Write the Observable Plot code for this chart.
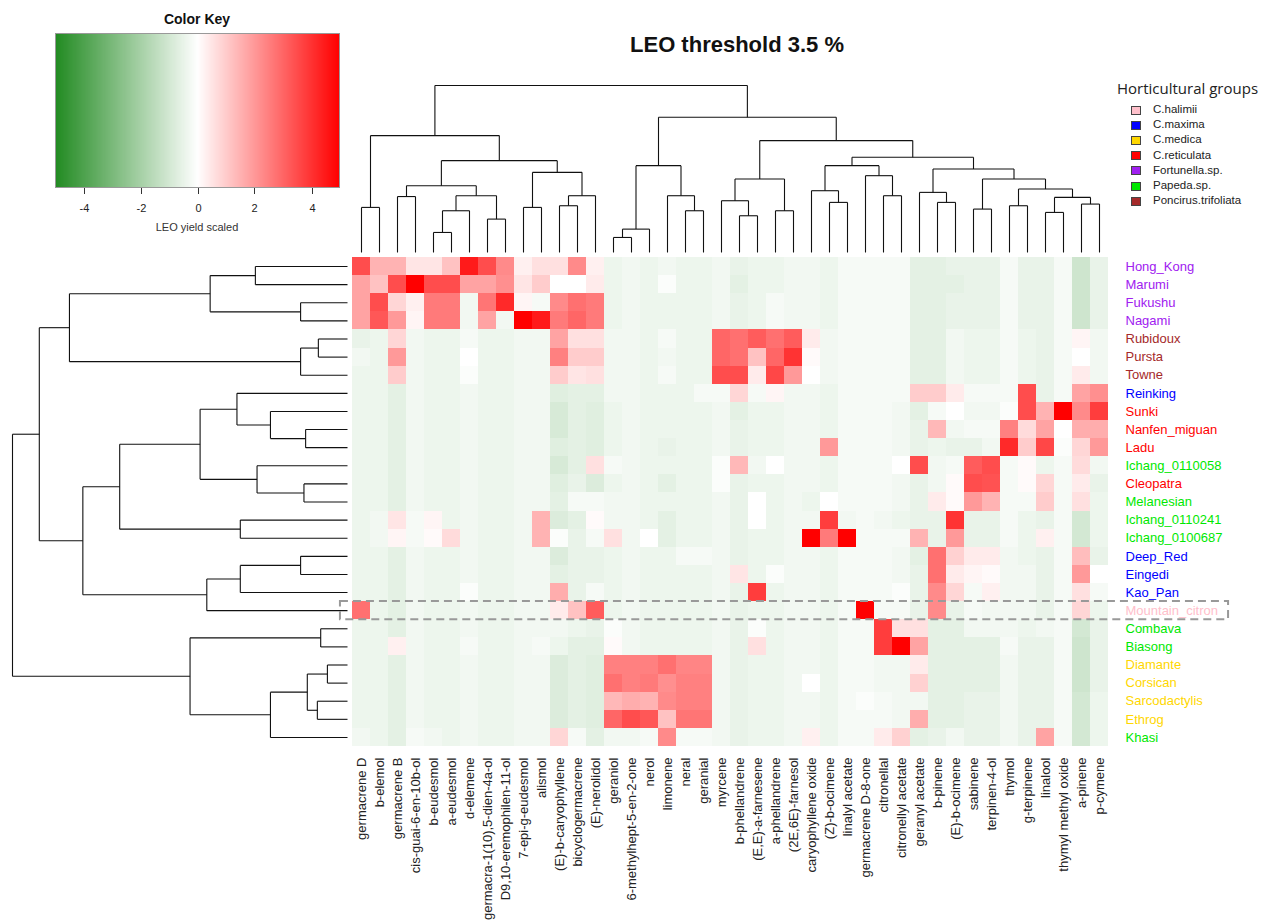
<!DOCTYPE html>
<html><head><meta charset="utf-8">
<script src="https://cdn.jsdelivr.net/npm/d3@7"></script>
<script src="https://cdn.jsdelivr.net/npm/@observablehq/plot@0.6"></script>
<style>
body{margin:0;background:#fff;font-family:"Liberation Sans",Arial,sans-serif;}
#wrap{position:relative;width:1273px;height:924px;overflow:hidden;background:#fff}
#wrap > svg{position:absolute;left:0;top:0}
.abs{position:absolute;white-space:nowrap}
</style></head><body><div id="wrap"></div>
<script>
const compounds = ["germacrene D","b-elemol","germacrene B","cis-guai-6-en-10b-ol","b-eudesmol","a-eudesmol","d-elemene","germacra-1(10),5-dien-4a-ol","D9,10-eremophilen-11-ol","7-epi-g-eudesmol","alismol","(E)-b-caryophyllene","bicyclogermacrene","(E)-nerolidol","geraniol","6-methylhept-5-en-2-one","nerol","limonene","neral","geranial","myrcene","b-phellandrene","(E,E)-a-farnesene","a-phellandrene","(2E,6E)-farnesol","caryophyllene oxide","(Z)-b-ocimene","linalyl acetate","germacrene D-8-one","citronellal","citronellyl acetate","geranyl acetate","b-pinene","(E)-b-ocimene","sabinene","terpinen-4-ol","thymol","g-terpinene","linalool","thymyl methyl oxide","a-pinene","p-cymene"];

const accessions = ["Hong_Kong","Marumi","Fukushu","Nagami","Rubidoux","Pursta","Towne","Reinking","Sunki","Nanfen_miguan","Ladu","Ichang_0110058","Cleopatra","Melanesian","Ichang_0110241","Ichang_0100687","Deep_Red","Eingedi","Kao_Pan","Mountain_citron","Combava","Biasong","Diamante","Corsican","Sarcodactylis","Ethrog","Khasi"];

const accessionGroup = ["Fortunella.sp.","Fortunella.sp.","Fortunella.sp.","Fortunella.sp.","Poncirus.trifoliata","Poncirus.trifoliata","Poncirus.trifoliata","C.maxima","C.reticulata","C.reticulata","C.reticulata","Papeda.sp.","C.reticulata","Papeda.sp.","Papeda.sp.","Papeda.sp.","C.maxima","C.maxima","C.maxima","C.halimii","Papeda.sp.","Papeda.sp.","C.medica","C.medica","C.medica","C.medica","Papeda.sp."];

const groupNames = ["C.halimii","C.maxima","C.medica","C.reticulata","Fortunella.sp.","Papeda.sp.","Poncirus.trifoliata"];
const groupColors = ["#FFC0CB","#0000FF","#FFD700","#FF0000","#A020F0","#00E800","#A52A2A"];

const highlighted = ["Mountain_citron"];

// scaled LEO yield, one row per accession, one value per compound
const values = [
[3.5,1.5,1.5,0.5,0.5,1.2,4.5,3.5,2.3,0.3,0.6,0.6,2.3,0.3,-0.4,-0.3,-0.4,-0.3,-0.4,-0.4,-0.3,-0.5,-0.4,-0.4,-0.3,-0.3,-0.4,-0.2,-0.2,-0.2,-0.2,-0.6,-0.6,-0.5,-0.5,-0.5,-0.2,-0.5,-0.5,-0.2,-1.1,-0.5],
[1.8,1.2,3.5,5,3.5,3.5,1.8,1.8,2.2,0.5,1.0,0,0,0.4,-0.4,-0.3,-0.4,-0.1,-0.4,-0.4,-0.3,-0.6,-0.4,-0.4,-0.3,-0.3,-0.4,-0.2,-0.2,-0.2,-0.2,-0.6,-0.6,-0.6,-0.5,-0.5,-0.2,-0.5,-0.5,-0.2,-1.1,-0.5],
[1.8,3.5,0.8,0.3,2.6,2.6,-0.3,2.7,4.2,0.2,-0.2,2.3,2.8,2.6,-0.4,-0.3,-0.4,-0.4,-0.4,-0.4,-0.3,-0.5,-0.4,-0.2,-0.3,-0.3,-0.4,-0.2,-0.2,-0.2,-0.2,-0.6,-0.6,-0.5,-0.5,-0.5,-0.2,-0.5,-0.5,-0.2,-1.1,-0.5],
[1.8,3.3,2.0,0.2,2.6,2.6,-0.3,1.8,-0.3,5,4.5,2.6,3.0,2.6,-0.4,-0.3,-0.4,-0.4,-0.4,-0.4,-0.3,-0.5,-0.4,-0.2,-0.3,-0.3,-0.4,-0.2,-0.2,-0.2,-0.2,-0.6,-0.6,-0.5,-0.5,-0.5,-0.2,-0.5,-0.5,-0.2,-1.1,-0.5],
[-0.5,-0.4,0.8,-0.3,-0.4,-0.4,-0.2,-0.4,-0.4,-0.3,-0.3,1.8,0.6,0.6,-0.3,-0.3,-0.4,-0.2,-0.4,-0.4,3.0,2.8,3.2,2.8,3.2,0.4,-0.3,-0.2,-0.2,-0.2,-0.2,-0.6,-0.6,-0.3,-0.4,-0.4,-0.2,-0.4,-0.5,-0.2,0.2,-0.3],
[-0.3,-0.4,2.0,-0.3,-0.4,-0.4,0,-0.4,-0.4,-0.3,-0.3,2.5,1.0,1.0,-0.3,-0.3,-0.4,-0.3,-0.4,-0.4,3.0,2.8,1.2,3.0,4.0,0.1,-0.3,-0.2,-0.2,-0.2,-0.2,-0.6,-0.6,-0.3,-0.4,-0.4,-0.2,-0.4,-0.5,-0.2,0,-0.3],
[-0.4,-0.4,1.0,-0.3,-0.4,-0.4,-0.1,-0.4,-0.4,-0.3,-0.3,1.0,0.5,0.6,-0.3,-0.3,-0.4,-0.2,-0.4,-0.4,3.5,3.5,0.4,3.6,2.0,0,-0.3,-0.2,-0.2,-0.2,-0.2,-0.6,-0.6,-0.3,-0.4,-0.4,-0.2,-0.4,-0.5,-0.2,0.4,-0.3],
[-0.4,-0.4,-0.6,-0.3,-0.4,-0.4,-0.3,-0.4,-0.4,-0.3,-0.3,-0.7,-0.6,-0.6,-0.3,-0.3,-0.4,-0.4,-0.4,-0.2,-0.2,0.8,-0.2,0.2,-0.3,-0.3,-0.4,-0.2,-0.2,-0.2,-0.2,1.0,1.0,0.4,-0.2,-0.2,-0.2,3.5,-0.5,-0.2,1.8,2.2],
[-0.4,-0.4,-0.6,-0.3,-0.4,-0.4,-0.3,-0.4,-0.4,-0.3,-0.3,-0.9,-0.6,-0.7,-0.4,-0.3,-0.4,-0.4,-0.4,-0.4,-0.3,-0.6,-0.4,-0.4,-0.3,-0.3,-0.4,-0.2,-0.2,-0.2,-0.3,-0.6,-0.2,0,-0.3,-0.3,-0.1,3.5,1.5,5,2.3,3.8],
[-0.4,-0.4,-0.6,-0.3,-0.4,-0.4,-0.3,-0.4,-0.4,-0.3,-0.3,-0.9,-0.6,-0.7,-0.4,-0.3,-0.4,-0.4,-0.4,-0.4,-0.3,-0.5,-0.4,-0.4,-0.3,-0.3,-0.4,-0.2,-0.2,-0.2,-0.3,-0.5,1.4,-0.3,-0.2,-0.2,2.5,0.7,1.8,0,1.6,1.6],
[-0.4,-0.4,-0.6,-0.3,-0.4,-0.4,-0.3,-0.4,-0.4,-0.3,-0.3,-0.7,-0.6,-0.7,-0.4,-0.3,-0.4,-0.5,-0.4,-0.4,-0.3,-0.5,-0.4,-0.4,-0.3,-0.3,2.0,-0.2,-0.2,-0.2,-0.3,-0.5,-0.4,-0.5,-0.5,-0.3,4.2,1.0,3.6,-0.1,0.8,2.0],
[-0.4,-0.4,-0.6,-0.3,-0.4,-0.4,-0.3,-0.4,-0.4,-0.3,-0.3,-0.9,-0.6,0.6,-0.2,-0.3,-0.4,-0.4,-0.4,-0.4,-0.1,1.4,-0.3,0,-0.3,-0.3,-0.4,-0.2,-0.2,-0.2,0,3.5,-0.3,-0.2,3.2,3.5,-0.2,0.1,-0.4,-0.2,0.7,-0.3],
[-0.4,-0.4,-0.6,-0.3,-0.4,-0.4,-0.3,-0.4,-0.4,-0.3,-0.3,-0.7,-0.5,-0.8,-0.4,-0.3,-0.4,-0.6,-0.4,-0.4,-0.1,-0.5,-0.4,-0.4,-0.3,-0.3,-0.4,-0.2,-0.2,-0.2,-0.3,-0.5,-0.3,0.1,3.5,3.4,-0.2,0.1,0.8,-0.2,0.4,-0.5],
[-0.4,-0.4,-0.6,-0.3,-0.4,-0.4,-0.3,-0.4,-0.4,-0.3,-0.3,-0.6,-0.2,-0.2,-0.3,-0.3,-0.4,-0.4,-0.4,-0.4,-0.3,-0.5,0,-0.4,-0.3,-0.4,0,-0.2,-0.2,-0.2,-0.3,-0.5,0.4,0.1,2.0,1.5,-0.2,-0.2,1.0,-0.2,0.6,-0.4],
[-0.4,-0.3,0.5,-0.2,0.2,-0.4,-0.3,-0.4,-0.4,-0.3,1.5,-0.8,-0.6,0.1,-0.3,-0.3,-0.4,-0.6,-0.4,-0.4,-0.3,-0.5,0,-0.4,-0.3,-0.3,3.8,-0.3,-0.2,-0.3,-0.4,-0.5,-0.5,4.0,-0.5,-0.5,-0.2,-0.4,-0.5,-0.2,-1.0,-0.4],
[-0.4,-0.3,0.2,-0.2,0.1,0.7,-0.3,-0.4,-0.4,-0.3,1.5,-0.1,-0.5,-0.2,0.6,-0.3,0,-0.6,-0.4,-0.4,-0.3,-0.5,-0.4,-0.4,-0.3,5,2.6,5,-0.2,-0.2,-0.2,1.5,-0.5,2.0,-0.5,-0.5,-0.2,-0.4,0.3,-0.2,-1.0,-0.4],
[-0.4,-0.4,-0.6,-0.3,-0.4,-0.4,-0.3,-0.4,-0.4,-0.3,-0.3,-0.8,-0.5,-0.5,-0.4,-0.3,-0.4,-0.4,-0.2,-0.2,-0.3,-0.5,-0.4,-0.4,-0.3,-0.3,-0.4,-0.2,-0.2,-0.2,-0.3,-0.6,2.8,0.9,0.4,0.4,-0.3,-0.4,-0.5,-0.2,1.3,-0.5],
[-0.4,-0.4,-0.6,-0.3,-0.4,-0.4,-0.3,-0.4,-0.4,-0.3,-0.3,-0.6,-0.5,-0.5,-0.4,-0.3,-0.4,-0.4,-0.4,-0.4,-0.3,0.5,-0.4,-0.1,-0.3,-0.3,-0.4,-0.2,-0.2,-0.2,-0.3,-0.5,2.8,0.4,0.2,0.1,-0.3,-0.3,-0.5,-0.2,2.0,0],
[-0.4,-0.4,-0.6,-0.3,-0.4,-0.4,-0.1,-0.4,-0.4,-0.3,-0.3,1.6,-0.5,-0.2,-0.4,-0.3,-0.4,-0.4,-0.4,-0.4,-0.3,-0.5,3.8,-0.4,-0.3,-0.3,-0.4,-0.2,-0.2,-0.2,-0.1,-0.5,2.3,0.8,-0.2,0.3,-0.3,-0.3,-0.5,-0.2,0.6,-0.2],
[2.8,-0.4,-0.6,-0.3,-0.4,-0.4,-0.3,-0.4,-0.4,-0.3,-0.3,0.4,1.2,3.2,-0.4,-0.3,-0.4,-0.4,-0.4,-0.4,-0.3,-0.5,-0.4,-0.4,-0.3,-0.3,-0.4,-0.2,5,-0.2,-0.2,-0.5,2.3,-0.5,-0.2,-0.3,-0.3,-0.3,-0.5,-0.2,0.8,-0.4],
[-0.4,-0.4,-0.6,-0.3,-0.4,-0.4,-0.3,-0.4,-0.4,-0.3,-0.3,-0.3,-0.4,-0.5,-0.1,-0.3,-0.4,-0.4,-0.4,-0.4,-0.3,-0.5,-0.1,-0.4,-0.3,-0.3,-0.4,-0.2,-0.2,3.8,0.6,0.6,-0.6,-0.6,-0.3,-0.3,-0.3,-0.4,-0.3,-0.2,-1.0,-0.5],
[-0.4,-0.4,0.3,-0.3,-0.4,-0.4,-0.2,-0.4,-0.4,-0.3,-0.2,-0.4,-0.6,-0.6,0.1,-0.3,-0.4,-0.4,-0.4,-0.4,-0.3,-0.5,0.6,-0.4,-0.3,-0.3,-0.4,-0.2,-0.2,3.8,5,1.8,-0.6,-0.6,-0.6,-0.6,-0.2,-0.5,-0.5,-0.2,-1.1,-0.5],
[-0.4,-0.4,-0.6,-0.3,-0.4,-0.4,-0.3,-0.4,-0.4,-0.3,-0.3,-0.8,-0.6,-0.7,2.5,2.5,2.5,2.8,2.4,2.4,-0.3,-0.5,-0.4,-0.4,-0.3,-0.3,-0.4,-0.2,-0.2,-0.3,-0.3,0.4,-0.6,-0.6,-0.6,-0.6,-0.3,-0.5,-0.5,-0.2,-1.1,-0.5],
[-0.4,-0.4,-0.6,-0.3,-0.4,-0.4,-0.3,-0.4,-0.4,-0.3,-0.3,-0.8,-0.6,-0.7,2.8,2.5,2.6,2.2,2.5,2.5,-0.3,-0.5,-0.4,-0.4,-0.3,0,-0.4,-0.2,-0.2,-0.3,-0.3,0.9,-0.6,-0.6,-0.6,-0.6,-0.3,-0.5,-0.5,-0.2,-1.1,-0.5],
[-0.4,-0.4,-0.6,-0.3,-0.4,-0.4,-0.3,-0.4,-0.4,-0.3,-0.3,-0.8,-0.6,-0.7,1.4,1.6,1.5,2.3,2.5,2.5,-0.3,-0.5,-0.4,-0.4,-0.3,-0.3,-0.4,-0.2,-0.1,-0.2,-0.3,-0.3,-0.6,-0.6,-0.5,-0.5,-0.3,-0.5,-0.5,-0.2,-1.0,-0.4],
[-0.4,-0.4,-0.6,-0.3,-0.4,-0.4,-0.3,-0.4,-0.4,-0.3,-0.3,-0.8,-0.6,-0.7,3.0,3.5,3.3,1.2,2.7,2.7,-0.3,-0.5,-0.4,-0.4,-0.3,-0.3,-0.4,-0.2,-0.2,-0.2,-0.3,1.6,-0.6,-0.6,-0.5,-0.5,-0.3,-0.5,-0.5,-0.2,-1.0,-0.4],
[-0.3,-0.4,-0.6,-0.2,-0.3,-0.4,-0.3,-0.4,-0.4,-0.3,-0.3,0.8,-0.2,-0.6,-0.3,-0.3,-0.2,2.3,-0.2,-0.2,-0.3,-0.5,-0.4,-0.4,-0.3,0.3,-0.4,-0.2,-0.2,0.4,0.9,-0.6,-0.5,-0.3,-0.5,-0.5,-0.3,-0.5,1.8,-0.2,-1.0,-0.4]
];

// dendrograms: leaf = position index, node = [height, left, right]
const colTree = [10,
  [7.0, [2.7, 0, 1],
        [5.5, [4.0, [3.35, 2, 3], [3.4, [2.5, [1.2, 4, 5], 6], [2.0, 7, 8]]],
              [4.8, [2.7, 9, 10], [3.4, [2.8, 11, 12], 13]]]],
  [8.1, [5.2, [1.4, [0.9, 14, 15], 16], [3.4, 17, [2.5, 18, 19]]],
        [6.7, [4.4, [3.1, 20, [2.2, 21, 22]], [2.5, 23, 24]],
              [5.7, [5.2, [3.7, 25, [3.0, 26, 27]], [4.6, 28, [3.4, 29, 30]]],
                    [5.0, [3.6, 31, [3.0, 32, 33]], [4.4, [2.6, 34, 35], [3.8, [2.8, 36, 37], [3.3, [2.4, 38, 39], [2.9, 40, 41]]]]]]]]
];
const rowTree = [10,
  [9.2, [8.3, [4.1, [2.75, 0, 1], [1.4, 2, 3]], [1.4, [0.87, 4, 5], 6]],
        [7.9, [6.8, [4.4, [3.3, 7, [2.3, 8, [1.25, 9, 10]]], [2.7, 11, [1.3, 12, 13]]], [3.2, 14, 15]],
              [4.2, [3.2, [1.4, 16, 17], 18], 19]]],
  [4.7, [0.8, 20, 21], [2.3, [1.2, [0.6, 22, 23], [0.9, 24, 25]], 26]]
];

const keyTicks = [-4, -2, 0, 2, 4];

function segments(tree) {
  const segs = [];
  (function walk(n) {
    if (typeof n === "number") return {p: n + 0.5, h: 0};
    const [h, a, b] = n;
    const A = walk(a), B = walk(b);
    segs.push({p1: A.p, h1: A.h, p2: A.p, h2: h});
    segs.push({p1: B.p, h1: B.h, p2: B.p, h2: h});
    segs.push({p1: A.p, h1: h, p2: B.p, h2: h});
    return {p: (A.p + B.p) / 2, h};
  })(tree);
  return segs;
}

const colorOpts = {type: "linear", domain: [-5, 5],
  interpolate: d3.piecewise(d3.interpolateRgb, ["#228B22", "#FFFFFF", "#FF0000"])};
const font = "'Liberation Sans', Arial, sans-serif";
const svgStyle = {background: "transparent", overflow: "visible", fontFamily: font};
const groupColor = Object.fromEntries(groupNames.map((g, i) => [g, groupColors[i]]));

const cells = values.flatMap((row, r) => row.map((v, c) => ({r, c, v})));
const wrap = document.getElementById("wrap");

const heat = Plot.plot({
  width: 1273, height: 924,
  x: {type: "linear", domain: [0, compounds.length], range: [352, 1108], axis: null},
  y: {type: "linear", domain: [0, accessions.length], range: [257, 746], axis: null},
  color: colorOpts,
  style: svgStyle,
  marks: [
    Plot.rect(cells, {x1: "c", x2: d => d.c + 1, y1: "r", y2: d => d.r + 1, fill: "v", shapeRendering: "crispEdges"}),
    Plot.text(compounds, {x: (d, i) => i + 0.5, y: accessions.length, text: d => d, rotate: -90,
      textAnchor: "end", dy: 11, fontSize: 13, fill: "#222"}),
    Plot.text(accessions, {x: compounds.length, y: (d, i) => i + 0.5, text: d => d, textAnchor: "start",
      dx: 17, fontSize: 13, fill: (d, i) => groupColor[accessionGroup[i]]}),
    Plot.rect(highlighted, {x1: -0.67, x2: compounds.length + 6.67,
      y1: d => accessions.indexOf(d), y2: d => accessions.indexOf(d) + 1,
      fill: "none", stroke: "#999", strokeWidth: 2, strokeDasharray: "8,5"})
  ]
});
wrap.appendChild(heat);

const colDendro = Plot.plot({
  width: 1273, height: 924,
  x: {type: "linear", domain: [0, compounds.length], range: [352, 1108], axis: null},
  y: {type: "linear", domain: [0, 10], range: [252, 85], axis: null},
  style: svgStyle,
  marks: [Plot.link(segments(colTree), {x1: "p1", y1: "h1", x2: "p2", y2: "h2", stroke: "#111", strokeWidth: 1.1})]
});
wrap.appendChild(colDendro);

const rowDendro = Plot.plot({
  width: 1273, height: 924,
  y: {type: "linear", domain: [0, accessions.length], range: [257, 746], axis: null},
  x: {type: "linear", domain: [0, 10], range: [347, 12], axis: null},
  style: svgStyle,
  marks: [Plot.link(segments(rowTree), {y1: "p1", x1: "h1", y2: "p2", x2: "h2", stroke: "#111", strokeWidth: 1.1})]
});
wrap.appendChild(rowDendro);

// colour key
const key = Plot.legend({
  color: colorOpts, legend: "ramp", width: 360, height: 240,
  marginTop: 33, marginBottom: 52, marginLeft: 55, marginRight: 20,
  ticks: keyTicks, tickSize: 6, tickFormat: d => String(d),
  style: {background: "transparent", overflow: "visible", fontFamily: font, fontSize: "11px"}
});
key.style.position = "absolute"; key.style.left = "0px"; key.style.top = "0px";
key.querySelectorAll(".tick line").forEach(l => { l.setAttribute("y1", 0); l.setAttribute("y2", 6); l.setAttribute("stroke", "#333"); });
key.querySelectorAll(".tick text").forEach(t => { t.setAttribute("y", 16); t.setAttribute("fill", "#222"); t.style.fontSize = "11px"; });
wrap.appendChild(key);

function addText(txt, css) {
  const d = document.createElement("div");
  d.className = "abs"; d.textContent = txt;
  Object.assign(d.style, css);
  wrap.appendChild(d);
  return d;
}
const box = document.createElement("div");
Object.assign(box.style, {position: "absolute", left: "55px", top: "33px", width: "285px", height: "155px", border: "1px solid #999", boxSizing: "border-box"});
wrap.appendChild(box);
addText("Color Key", {left: "97px", width: "200px", textAlign: "center", top: "11px", fontSize: "14px", fontWeight: "bold", color: "#111"});
addText("LEO yield scaled", {left: "97px", width: "200px", textAlign: "center", top: "221px", fontSize: "11px", color: "#333"});
addText("LEO threshold 3.5 %", {left: "537px", width: "400px", textAlign: "center", top: "32px", fontSize: "22px", fontWeight: "bold", color: "#111"});
addText("Horticultural groups", {left: "1117px", top: "78px", fontSize: "15px", color: "#222", fontFamily: "'Open Sans', 'Liberation Sans', sans-serif"});
groupNames.forEach((g, i) => {
  const y = 110 + i * 15.2;
  const sw = document.createElement("div");
  Object.assign(sw.style, {position: "absolute", left: "1131px", top: (y - 4.5) + "px", width: "10px", height: "9px",
    background: groupColors[i], border: "1px solid #444", boxSizing: "border-box"});
  wrap.appendChild(sw);
  addText(g, {left: "1153px", top: (y - 7) + "px", fontSize: "11.5px", color: "#222"});
});
</script>
</body></html>
